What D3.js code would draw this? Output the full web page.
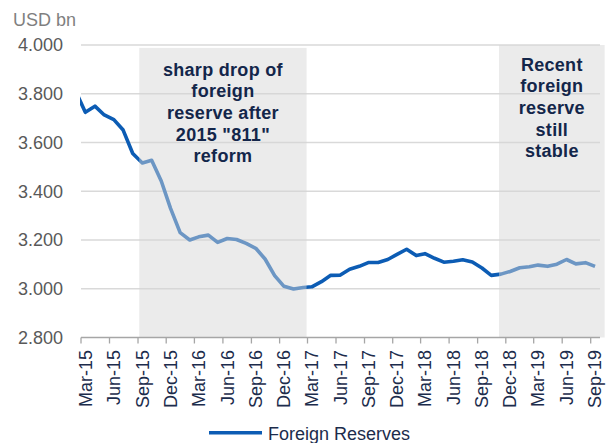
<!DOCTYPE html>
<html>
<head>
<meta charset="utf-8">
<script src="https://cdn.jsdelivr.net/npm/d3@7"></script>
<style>
  body { margin: 0; background: #fff; }
  svg { font-family: "Liberation Sans", Arial, sans-serif; }
</style>
</head>
<body>
<svg id="chart"></svg>
<script>
// monthly foreign reserves, USD bn (thousands), first month sits left of the axis and is clipped
var firstMonth = "2015-02";
var reserves = [
  3.802,
  3.724, 3.749, 3.713, 3.694, 3.651, 3.555, 3.516, 3.527, 3.442, 3.330,
  3.230, 3.200, 3.213, 3.220, 3.190, 3.206, 3.202, 3.186, 3.166, 3.122, 3.054, 3.010,
  2.999, 3.005, 3.008, 3.029, 3.055, 3.056, 3.080, 3.092, 3.108, 3.108, 3.120, 3.141,
  3.162, 3.136, 3.144, 3.125, 3.109, 3.113, 3.119, 3.110, 3.085, 3.055, 3.060, 3.071,
  3.086, 3.090, 3.097, 3.092, 3.101, 3.120, 3.102, 3.107, 3.092
];
var xTickLabels = ["Mar-15","Jun-15","Sep-15","Dec-15","Mar-16","Jun-16","Sep-16","Dec-16",
  "Mar-17","Jun-17","Sep-17","Dec-17","Mar-18","Jun-18","Sep-18","Dec-18","Mar-19","Jun-19","Sep-19"];
var yTicks = [2.8, 3.0, 3.2, 3.4, 3.6, 3.8, 4.0];
var shades = [
  { from: "2015-09-05", to: "2017-02-26", top: 3.988 },
  { from: "2018-11-09", to: "2019-10-16", top: 4.0 }
];
var notes = [
  ["sharp drop of", "foreign", "reserve after", "2015 \"811\"", "reform"],
  ["Recent", "foreign", "reserve", "still", "stable"]
];
var seriesName = "Foreign Reserves";

var W = 607, H = 443;
var lineColor = "#0c5cb4";
var navy = "#1c2c4c";

var svg = d3.select("#chart").attr("width", W).attr("height", H);

var parseMonth = d3.timeParse("%Y-%m");
var parseDay = d3.timeParse("%Y-%m-%d");
var parseTick = d3.timeParse("%b-%y");

var start = parseMonth(firstMonth);
var data = reserves.map(function(v, i) {
  var m = d3.timeMonth.offset(start, i);
  return { date: new Date(m.getFullYear(), m.getMonth(), 15), value: v };
});

var x = d3.scaleTime()
  .domain([parseMonth("2015-03"), parseMonth("2019-10")])
  .range([81, 600]);
var y = d3.scaleLinear().domain([2.8, 4.0]).range([337.5, 45]);

// gridlines
svg.append("g").selectAll("line")
  .data(yTicks.filter(function(d) { return d > 2.8; }))
  .enter().append("line")
  .attr("x1", x.range()[0]).attr("x2", x.range()[1])
  .attr("y1", function(d) { return y(d); }).attr("y2", function(d) { return y(d); })
  .attr("stroke", "#d9d9d9").attr("stroke-width", 1.5);

// y labels
svg.append("g").selectAll("text")
  .data(yTicks).enter().append("text")
  .attr("x", 63).attr("y", function(d) { return y(d); })
  .attr("dy", "0.35em")
  .attr("text-anchor", "end")
  .attr("font-size", 18)
  .attr("fill", "#595959")
  .text(function(d) { return d3.format(".3f")(d); });

svg.append("text")
  .attr("x", 13).attr("y", 26)
  .attr("font-size", 18).attr("fill", "#7f7f7f")
  .text("USD bn");

// line, clipped to the plot area
svg.append("clipPath").attr("id", "plotClip")
  .append("rect").attr("x", 80).attr("y", 0).attr("width", 530).attr("height", 340);

var line = d3.line()
  .x(function(d) { return x(d.date); })
  .y(function(d) { return y(d.value); });

svg.append("path")
  .datum(data)
  .attr("clip-path", "url(#plotClip)")
  .attr("fill", "none")
  .attr("stroke", lineColor)
  .attr("stroke-width", 3.6)
  .attr("stroke-linejoin", "round")
  .attr("d", line);

// translucent shading on top of the line, that is what makes the line look lighter
svg.append("g").selectAll("rect")
  .data(shades).enter().append("rect")
  .attr("x", function(d) { return x(parseDay(d.from)); })
  .attr("width", function(d) { return x(parseDay(d.to)) - x(parseDay(d.from)); })
  .attr("y", function(d) { return y(d.top); })
  .attr("height", function(d) { return y(2.8) - y(d.top); })
  .attr("fill", "rgb(214,214,214)")
  .attr("fill-opacity", 0.48);

// x axis
svg.append("line")
  .attr("x1", x.range()[0]).attr("x2", x.range()[1])
  .attr("y1", y(2.8)).attr("y2", y(2.8))
  .attr("stroke", "#a6a6a6").attr("stroke-width", 1.3);

var tickDates = xTickLabels.map(function(t) { return parseTick(t); });

svg.append("g").selectAll("line")
  .data(tickDates).enter().append("line")
  .attr("x1", function(d) { return x(d); }).attr("x2", function(d) { return x(d); })
  .attr("y1", y(2.8)).attr("y2", y(2.8) + 6)
  .attr("stroke", "#a6a6a6").attr("stroke-width", 1.3);

svg.append("g").selectAll("text")
  .data(xTickLabels).enter().append("text")
  .attr("transform", function(d) {
    var t = parseTick(d);
    var mid = new Date(t.getFullYear(), t.getMonth(), 15);
    return "translate(" + x(mid) + ",350) rotate(-90)";
  })
  .attr("dy", "0.35em")
  .attr("text-anchor", "end")
  .attr("font-size", 18)
  .attr("fill", navy)
  .text(function(d) { return d; });

// notes in the shaded periods
var noteTop = [75.7, 70.7];
notes.forEach(function(lines, k) {
  var s = shades[k];
  var cx = (x(parseDay(s.from)) + x(parseDay(s.to))) / 2;
  svg.append("g").selectAll("text")
    .data(lines).enter().append("text")
    .attr("x", cx)
    .attr("y", function(d, i) { return noteTop[k] + i * 21.6; })
    .attr("text-anchor", "middle")
    .attr("font-size", 18)
    .attr("font-weight", "bold")
    .attr("letter-spacing", 0.3)
    .attr("fill", "#13264a")
    .text(function(d) { return d; });
});

// legend
svg.append("line")
  .attr("x1", 209).attr("x2", 262).attr("y1", 432.7).attr("y2", 432.7)
  .attr("stroke", lineColor).attr("stroke-width", 3.6);
svg.append("text")
  .attr("x", 268).attr("y", 439.5)
  .attr("font-size", 18).attr("fill", navy)
  .text(seriesName);
</script>
</body>
</html>
